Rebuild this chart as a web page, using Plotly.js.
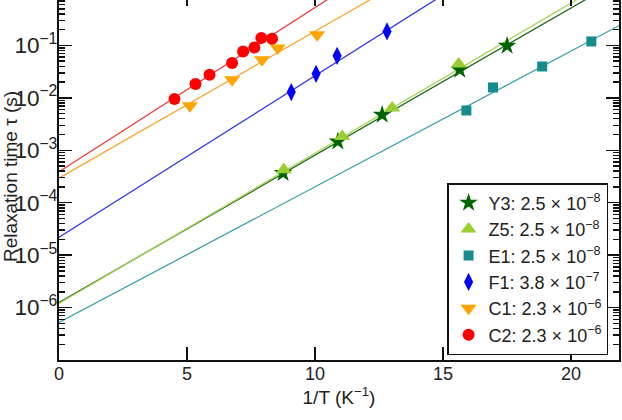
<!DOCTYPE html>
<html>
<head>
<meta charset="utf-8">
<script src="https://cdn.plot.ly/plotly-3.0.1.min.js"></script>
<style>
  html, body { margin: 0; padding: 0; overflow: hidden; background: #fff; }
  #chart { position: absolute; left: 0; top: -7px; width: 622px; height: 427px; }
</style>
</head>
<body>
<div id="chart"></div>
<script>
// Relaxation time tau versus inverse temperature for six samples

const legendLabels = {
  Y3: 'Y3: 2.5 \u00d7 10<sup>\u22128</sup>',
  Z5: 'Z5: 2.5 \u00d7 10<sup>\u22128</sup>',
  E1: 'E1: 2.5 \u00d7 10<sup>\u22128</sup>',
  F1: 'F1: 3.8 \u00d7 10<sup>\u22127</sup>',
  C1: 'C1: 2.3 \u00d7 10<sup>\u22126</sup>',
  C2: 'C2: 2.3 \u00d7 10<sup>\u22126</sup>'
};

// measured points: 1/T (K^-1) and tau (s)
const y3InvT = [8.75, 10.89, 12.62, 15.65, 17.50];
const y3Tau  = [3.67e-4, 1.47e-3, 4.76e-3, 0.0344, 0.0986];

const z5InvT = [8.78, 11.06, 13.01, 15.61];
const z5Tau  = [4.25e-4, 1.83e-3, 6.38e-3, 0.0442];

const e1InvT = [15.91, 16.95, 18.87, 20.79];
const e1Tau  = [5.75e-3, 0.0158, 0.0397, 0.119];

const f1InvT = [9.07, 10.04, 10.86, 12.81];
const f1Tau  = [0.0129, 0.0288, 0.0635, 0.185];

const c1InvT = [5.11, 6.76, 7.93, 8.54, 10.08];
const c1Tau  = [7.06e-3, 0.0222, 0.0533, 0.0891, 0.160];

const c2InvT = [4.51, 5.33, 5.88, 6.76, 7.19, 7.63, 7.90, 8.32];
const c2Tau  = [9.5e-3, 0.0183, 0.0276, 0.0461, 0.0767, 0.0916, 0.138, 0.134];

// Arrhenius fit lines, given by their end points at 1/T = 0 and 1/T = 22
const fitInvT = [0, 22];
const y3Fit = [1.25e-6, 1.89];
const z5Fit = [1.20e-6, 2.40];
const e1Fit = [5.2e-7, 0.258];
const f1Fit = [2.2e-5, 132];
const c1Fit = [2.95e-4, 427];
const c2Fit = [3.9e-4, 3030];

const series = [
  { key: 'Y3', x: y3InvT, y: y3Tau, fit: y3Fit, symbol: 'star',          size: 14, mcolor: '#006400', lcolor: '#1f6a1f' },
  { key: 'Z5', x: z5InvT, y: z5Tau, fit: z5Fit, symbol: 'triangle-up',   size: 14, mcolor: '#9acd32', lcolor: '#a8d454' },
  { key: 'E1', x: e1InvT, y: e1Tau, fit: e1Fit, symbol: 'square',        size: 10, mcolor: '#168c8c', lcolor: '#3aa3a6' },
  { key: 'F1', x: f1InvT, y: f1Tau, fit: f1Fit, symbol: 'diamond-tall',  size: 13, mcolor: '#0000ff', lcolor: '#3535ee' },
  { key: 'C1', x: c1InvT, y: c1Tau, fit: c1Fit, symbol: 'triangle-down', size: 14, mcolor: '#ffa500', lcolor: '#f9a934' },
  { key: 'C2', x: c2InvT, y: c2Tau, fit: c2Fit, symbol: 'circle',        size: 12, mcolor: '#ff0000', lcolor: '#ef3b3b' }
];

const traces = [];
series.forEach(s => {
  traces.push({
    type: 'scatter', mode: 'lines', x: fitInvT, y: s.fit,
    line: { color: s.lcolor, width: 1.3 }, showlegend: false
  });
});
series.forEach(s => {
  traces.push({
    type: 'scatter', mode: 'markers', x: s.x, y: s.y,
    name: legendLabels[s.key],
    marker: { symbol: s.symbol, size: s.size, color: s.mcolor }
  });
});

const fontFamily = 'Liberation Sans, Arial, Helvetica, sans-serif';
const baseFont = { family: fontFamily, size: 18, color: '#222' };

const layout = {
  width: 622, height: 427,
  margin: { l: 59, r: 3, t: 0, b: 60 },
  paper_bgcolor: '#fff', plot_bgcolor: '#fff',
  font: baseFont,
  showlegend: true,
  xaxis: {
    range: [0, 21.87], dtick: 5,
    ticks: 'inside', ticklen: 13, tickwidth: 1.5, tickcolor: '#111',
    showline: true, linecolor: '#111', linewidth: 2, mirror: 'allticks',
    showgrid: false, zeroline: false,
    tickfont: baseFont, ticklabelstandoff: -4,
    title: { text: '1/T (K<sup>\u22121</sup>)', font: { family: fontFamily, size: 19, color: '#222' }, standoff: 4 }
  },
  yaxis: {
    type: 'log', range: [-6.999, 0], dtick: 1, exponentformat: 'power',
    ticks: 'inside', ticklen: 13, tickwidth: 1.5, tickcolor: '#111',
    minor: { ticks: 'inside', ticklen: 6 },
    showline: true, linecolor: '#111', linewidth: 2, mirror: 'allticks',
    showgrid: false, zeroline: false,
    tickfont: baseFont, ticklabelstandoff: -4,
    title: { text: 'Relaxation time \u03c4 (s)', font: { family: fontFamily, size: 19, color: '#222' }, standoff: 20 }
  },
  legend: {
    x: 0.693, y: 0.0136, xanchor: 'left', yanchor: 'bottom',
    bgcolor: '#fff', bordercolor: '#111', borderwidth: 1.5,
    font: baseFont, itemwidth: 30
  }
};

Plotly.newPlot('chart', traces, layout, { displayModeBar: false, staticPlot: true });
</script>
</body>
</html>
